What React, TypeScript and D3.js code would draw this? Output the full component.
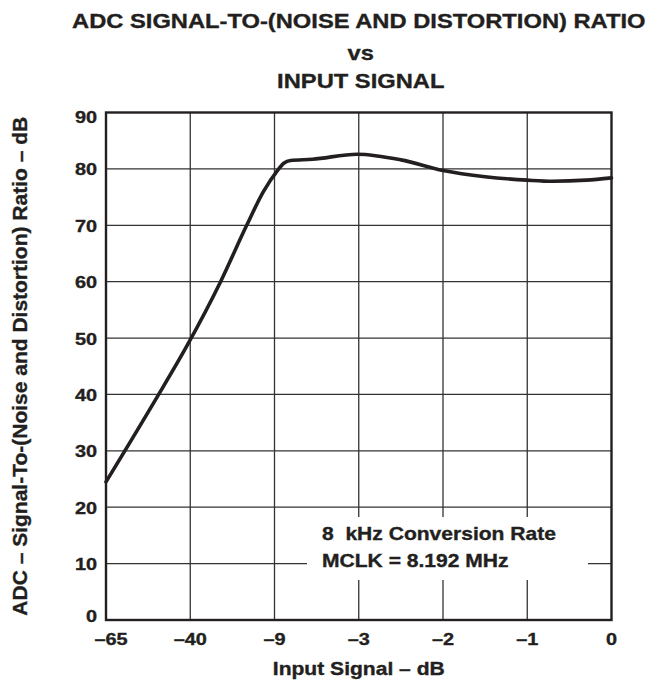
import React from "react";
import * as d3 from "d3";

const categories = ["–65", "–40", "–9", "–3", "–2", "–1", "0"];
const yTicks = [0, 10, 20, 30, 40, 50, 60, 70, 80, 90];
// curve position expressed as fractional category index along the x axis
const curvePos = [0, 0.585, 0.96, 1.36, 1.67, 1.87, 2.03, 2.11, 2.19, 2.45, 2.98, 3.5, 4.0, 4.5, 5.0, 5.3, 5.7, 6.0];
const curveSNR = [24.5, 39.0, 48.6, 60, 70, 76.0, 79.6, 81.0, 81.5, 81.7, 82.6, 81.6, 79.7, 78.6, 78.0, 77.8, 78.0, 78.4];
const titleLines = ["ADC SIGNAL-TO-(NOISE AND DISTORTION) RATIO", "vs", "INPUT SIGNAL"];
const xLabel = "Input Signal – dB";
const yLabel = "ADC – Signal-To-(Noise and Distortion) Ratio – dB";
const noteLines = ["8  kHz Conversion Rate", "MCLK = 8.192 MHz"];

const FONT = "'Liberation Sans', Arial, Helvetica, sans-serif";

export default function App() {
  const W = 651, H = 683;
  const left = 106, right = 611.5, top = 112.5, bottom = 620;
  const x = d3.scaleLinear().domain([0, categories.length - 1]).range([left, right]);
  const y = d3.scaleLinear().domain([0, 90]).range([bottom, top]);
  const pts: [number, number][] = curvePos.map((p, i) => [p, curveSNR[i]]);
  const line = d3.line<[number, number]>()
    .x(d => x(d[0]))
    .y(d => y(d[1]))
    .curve(d3.curveMonotoneX);
  const cx = (left + right) / 2;
  const cy = (top + bottom) / 2;
  const sx = 1.17;
  const ink = "#231f20";

  const box = { x0: 307, x1: 588, y0: 517, y1: 580 };
  const textProps = { stroke: ink, strokeWidth: 0.35, style: { whiteSpace: "pre" as const } };

  return (
    <svg width={W} height={H} style={{ position: "absolute", left: 0, top: 0, background: "#fff" }}
      fontFamily={FONT} fontWeight="bold" fill={ink}>
      <rect x={0} y={0} width={W} height={H} fill="#fff" />
      {/* title */}
      {titleLines.map((t, i) => (
        <text key={t} {...textProps} transform={`translate(${cx + (i === 0 ? 0 : 2)},${[28, 60, 87.5][i]}) scale(1.13,1)`} textAnchor="middle" fontSize={21}>{t}</text>
      ))}
      {/* gridlines */}
      {yTicks.slice(1, -1).map(v => (
        <line key={"h" + v} x1={left} x2={right} y1={y(v)} y2={y(v)} stroke="#333" strokeWidth={1.3} />
      ))}
      {categories.slice(1, -1).map((c, i) => (
        <line key={"v" + c} x1={x(i + 1)} x2={x(i + 1)} y1={top} y2={bottom} stroke="#333" strokeWidth={1.3} />
      ))}
      {/* annotation */}
      <rect x={box.x0} y={box.y0} width={box.x1 - box.x0} height={box.y1 - box.y0} fill="#fff" />
      {noteLines.map((t, i) => (
        <text key={t} {...textProps} transform={`translate(322,${540 + i * 26.7}) scale(${sx},1)`} fontSize={18}>{t}</text>
      ))}
      {/* curve */}
      <path d={line(pts) || ""} fill="none" stroke={ink} strokeWidth={3.6} strokeLinejoin="round" strokeLinecap="round" />
      {/* frame */}
      <rect x={left} y={top} width={right - left} height={bottom - top} fill="none" stroke={ink} strokeWidth={2.4} />
      {/* y tick labels */}
      {yTicks.map(v => {
        const by = Math.min(Math.max(y(v) + 6.5, top + 10), bottom + 2);
        return (
          <text key={"yl" + v} {...textProps} transform={`translate(97,${by}) scale(${sx},1)`} textAnchor="end" fontSize={17}>{v}</text>
        );
      })}
      {/* x tick labels */}
      {categories.map((c, i) => {
        const px = Math.max(x(i), left + 5);
        return (
          <text key={"xl" + c} {...textProps} transform={`translate(${px},645) scale(${sx},1)`} textAnchor="middle" fontSize={17}>{c}</text>
        );
      })}
      <text {...textProps} transform={`translate(${cx},675) scale(${sx},1)`} textAnchor="middle" fontSize={18}>{xLabel}</text>
      <text {...textProps} transform={`translate(27,${cy}) rotate(-90) scale(1.05,1)`} textAnchor="middle" fontSize={20}>{yLabel}</text>
    </svg>
  );
}
